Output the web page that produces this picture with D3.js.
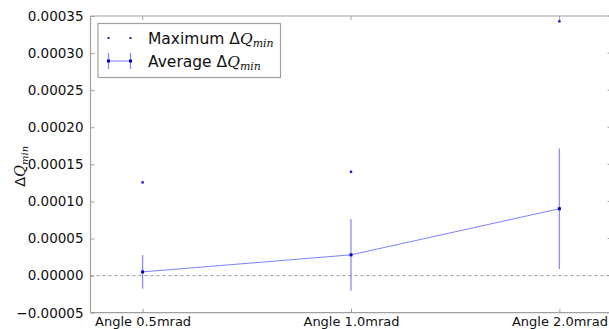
<!DOCTYPE html>
<html>
<head>
<meta charset="utf-8">
<script src="https://cdn.jsdelivr.net/npm/d3@7"></script>
<style>
  body { margin: 0; background: #fff; }
  svg { display: block; font-family: "DejaVu Sans", sans-serif; }
</style>
</head>
<body>
<svg id="chart" width="609" height="329"></svg>
<script>
// Beam-angle settings and measured ΔQ_min values
const categories = ["Angle 0.5mrad", "Angle 1.0mrad", "Angle 2.0mrad"];
const maxValues = [0.0001257, 0.000140, 0.0003428];
const avgValues = [0.0000050, 0.0000280, 0.0000902];
const avgErrors = [0.0000227, 0.0000483, 0.0000813];
const yTicks = [-0.00005, 0, 0.00005, 0.0001, 0.00015, 0.0002, 0.00025, 0.0003, 0.00035];

(function () {
  const svg = d3.select("#chart");
  const pLeft = 90.5, pRight = 611.5, pTop = 16, pBottom = 312.7;

  const x = d3.scaleLinear().domain([-0.25, 2.25]).range([pLeft, pRight]);
  const y = d3.scaleLinear().domain([-0.00005, 0.00035]).range([pBottom, pTop]);

  const fmt = v => {
    const s = Math.abs(v).toFixed(5);
    return (v < -1e-12 ? "\u2212" : "") + s;
  };

  // zero reference line
  svg.append("line")
    .attr("x1", pLeft).attr("x2", pRight)
    .attr("y1", y(0)).attr("y2", y(0))
    .attr("stroke", "#999").attr("stroke-width", 1)
    .attr("stroke-dasharray", "3,3");

  // average line
  const line = d3.line().x((d, i) => x(i)).y(d => y(d));
  svg.append("path").datum(avgValues)
    .attr("d", line)
    .attr("fill", "none")
    .attr("stroke", "rgba(0,0,255,0.5)")
    .attr("stroke-width", 1);

  // error bars
  svg.selectAll(".err").data(avgValues).enter().append("line")
    .attr("x1", (d, i) => x(i)).attr("x2", (d, i) => x(i))
    .attr("y1", (d, i) => y(d + avgErrors[i]))
    .attr("y2", (d, i) => y(d - avgErrors[i]))
    .attr("stroke", "rgba(0,0,255,0.45)")
    .attr("stroke-width", 1.3);

  // average markers
  svg.selectAll(".avg").data(avgValues).enter().append("rect")
    .attr("x", (d, i) => x(i) - 1.5).attr("y", d => y(d) - 1.5)
    .attr("width", 3).attr("height", 3)
    .attr("fill", "#0000cc");

  // maximum markers
  svg.selectAll(".max").data(maxValues).enter().append("rect")
    .attr("x", (d, i) => x(i) - 1.2).attr("y", d => y(d) - 1.2)
    .attr("width", 2.4).attr("height", 2.4)
    .attr("fill", "#1a1acc");

  // frame
  const frame = svg.append("g").attr("stroke", "#a0a0a0").attr("stroke-width", 1.2).attr("fill", "none");
  frame.append("line").attr("x1", pLeft).attr("x2", pLeft).attr("y1", pTop).attr("y2", pBottom);
  frame.append("line").attr("x1", pLeft).attr("x2", pRight).attr("y1", pTop).attr("y2", pTop);
  frame.append("line").attr("x1", pLeft).attr("x2", pRight).attr("y1", pBottom).attr("y2", pBottom);
  frame.append("line").attr("x1", pRight).attr("x2", pRight).attr("y1", pTop).attr("y2", pBottom);

  // y axis
  const yAxis = d3.axisLeft(y).tickValues(yTicks).tickFormat(fmt).tickSizeInner(-4).tickSizeOuter(0).tickPadding(7);
  const ga = svg.append("g").attr("transform", `translate(${pLeft},0)`).call(yAxis);
  ga.select(".domain").remove();
  ga.selectAll(".tick line").attr("stroke", "#a0a0a0");
  ga.selectAll(".tick text").attr("font-size", 13.5).attr("fill", "#111")
    .attr("font-family", "DejaVu Sans, sans-serif");

  // right-side ticks
  svg.selectAll(".rt").data(yTicks).enter().append("line")
    .attr("x1", pRight).attr("x2", pRight - 4)
    .attr("y1", d => y(d)).attr("y2", d => y(d))
    .attr("stroke", "#a0a0a0");

  // x axis
  const xAxis = d3.axisBottom(x).tickValues([0, 1, 2]).tickFormat(i => categories[i]).tickSizeInner(-4).tickSizeOuter(0).tickPadding(3.8);
  const gx = svg.append("g").attr("transform", `translate(0,${pBottom})`).call(xAxis);
  gx.select(".domain").remove();
  gx.selectAll(".tick line").attr("stroke", "#a0a0a0");
  gx.selectAll(".tick text").attr("font-size", 13).attr("fill", "#111")
    .attr("font-family", "DejaVu Sans, sans-serif");

  // top ticks
  svg.selectAll(".tt").data([0, 1, 2]).enter().append("line")
    .attr("x1", d => x(d)).attr("x2", d => x(d))
    .attr("y1", pTop).attr("y2", pTop + 4)
    .attr("stroke", "#a0a0a0");

  // y label
  const yl = svg.append("text")
    .attr("transform", `translate(25,${(pTop + pBottom) / 2 + 2}) rotate(-90)`)
    .attr("text-anchor", "middle")
    .attr("font-size", 14.5).attr("fill", "#111");
  yl.append("tspan").attr("font-family", "DejaVu Sans, sans-serif").text("\u0394");
  yl.append("tspan").attr("font-family", "DejaVu Serif, serif").attr("font-style", "italic").text("Q");
  yl.append("tspan").attr("font-family", "DejaVu Serif, serif").attr("font-style", "italic")
    .attr("font-size", 10).attr("dy", 3).text("min");

  // legend
  const lg = svg.append("g");
  lg.append("rect").attr("x", 98).attr("y", 23.5).attr("width", 182.5).attr("height", 54)
    .attr("fill", "#fff").attr("stroke", "#a0a0a0").attr("stroke-width", 1.2);
  const lx1 = 108.5, lx2 = 130.5, ly1 = 38, ly2 = 61;
  [lx1, lx2].forEach(px => {
    lg.append("rect").attr("x", px - 1).attr("y", ly1 - 1).attr("width", 2).attr("height", 2).attr("fill", "#1a1acc");
  });
  lg.append("line").attr("x1", lx1).attr("x2", lx2).attr("y1", ly2).attr("y2", ly2)
    .attr("stroke", "rgba(0,0,255,0.5)");
  [lx1, lx2].forEach(px => {
    lg.append("line").attr("x1", px).attr("x2", px).attr("y1", ly2 - 8).attr("y2", ly2 + 8)
      .attr("stroke", "rgba(0,0,255,0.45)").attr("stroke-width", 1.3);
    lg.append("rect").attr("x", px - 1.5).attr("y", ly2 - 1.5).attr("width", 3).attr("height", 3).attr("fill", "#0000cc");
  });
  const labels = ["Maximum ", "Average "];
  [ly1, ly2].forEach((ly, k) => {
    const t = lg.append("text").attr("x", 148).attr("y", ly + 5.5)
      .attr("font-size", 15.5).attr("fill", "#111");
    t.append("tspan").attr("font-family", "DejaVu Sans, sans-serif").text(labels[k] + "\u0394");
    t.append("tspan").attr("font-family", "DejaVu Serif, serif").attr("font-style", "italic").text("Q");
    t.append("tspan").attr("font-family", "DejaVu Serif, serif").attr("font-style", "italic")
      .attr("font-size", 11).attr("dy", 3).text("min");
  });
})();
</script>
</body>
</html>
